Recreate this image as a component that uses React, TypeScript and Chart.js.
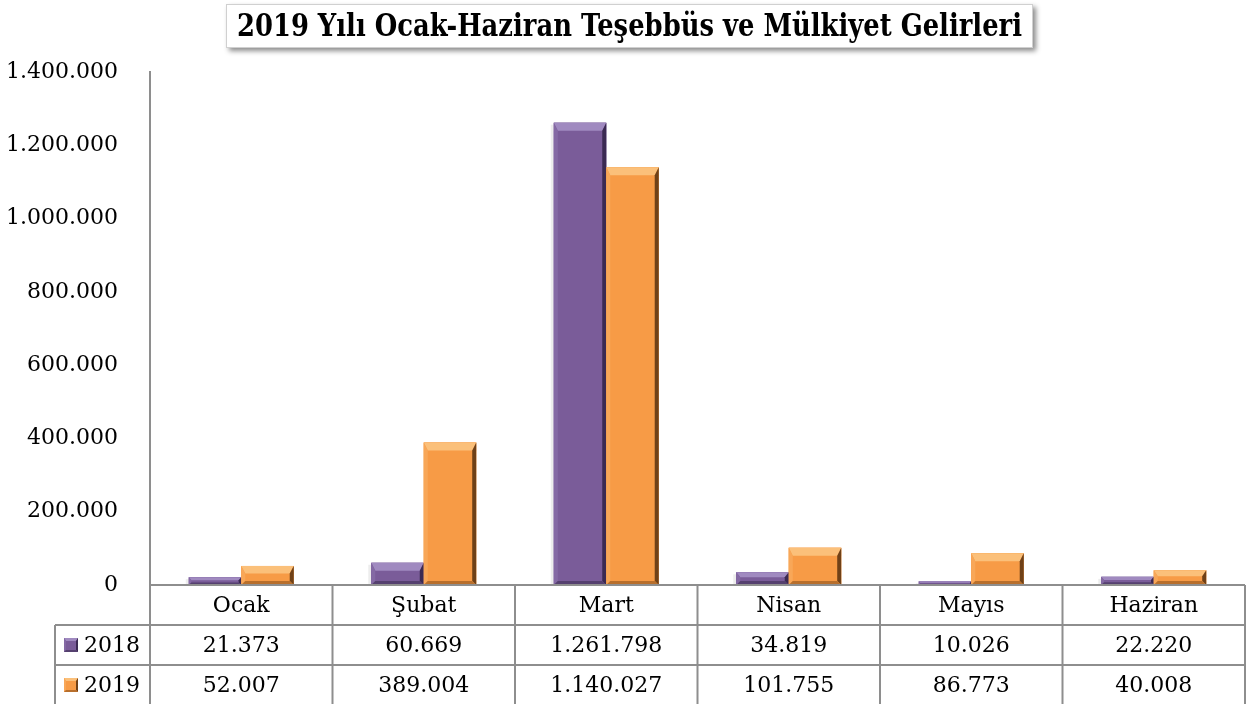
import React, { useEffect, useRef } from "react";
import { Chart, registerables } from "chart.js";

Chart.register(...registerables);

const title = "2019 Yılı Ocak-Haziran Teşebbüs ve Mülkiyet Gelirleri";
const categories = ["Ocak", "Şubat", "Mart", "Nisan", "Mayıs", "Haziran"];
const seriesNames = ["2018", "2019"];
const series2018 = [21373, 60669, 1261798, 34819, 10026, 22220];
const series2019 = [52007, 389004, 1140027, 101755, 86773, 40008];
const yMax = 1400000;
const yStep = 200000;

const FONT = '"DejaVu Serif", "Liberation Serif", serif';
const GRID = "#8e8e8e";

const palette = [
  { base: "#7a5c99", light: "#a08ac0", dark: "#3b2a52", bottom: "#55406f", side: "#8469a4" },
  { base: "#f79b46", light: "#fbc07a", dark: "#6f4118", bottom: "#b86f2c", side: "#f8a758" },
];

const fmt = (n: number) => n.toString().replace(/\B(?=(\d{3})+(?!\d))/g, ".");

function bevel(ctx: CanvasRenderingContext2D, left: number, top: number, right: number, bottom: number, c: any, bt: number, bs: number) {
  const h = bottom - top;
  const w = right - left;
  const t = Math.max(1, Math.min(bt, h / 2.5));
  const s = Math.max(1, Math.min(bs, h / 3, w / 4));
  ctx.save();
  ctx.fillStyle = c.base;
  ctx.fillRect(left, top, w, h);
  const poly = (pts: number[][], col: string) => {
    ctx.beginPath();
    ctx.moveTo(pts[0][0], pts[0][1]);
    for (let i = 1; i < pts.length; i++) ctx.lineTo(pts[i][0], pts[i][1]);
    ctx.closePath();
    ctx.fillStyle = col;
    ctx.fill();
  };
  poly([[left, top], [right, top], [right - s, top + t], [left + s, top + t]], c.light);
  poly([[left, top], [left + s, top + t], [left + s, bottom - s], [left, bottom]], c.side);
  poly([[right, top], [right, bottom], [right - s, bottom - s], [right - s, top + t]], c.dark);
  poly([[left, bottom], [right, bottom], [right - s, bottom - s], [left + s, bottom - s]], c.bottom);
  ctx.restore();
}

const decorPlugin = {
  id: "decor",
  afterDatasetsDraw(chart: any) {
    const ctx: CanvasRenderingContext2D = chart.ctx;
    chart.data.datasets.forEach((_: any, di: number) => {
      const meta = chart.getDatasetMeta(di);
      meta.data.forEach((el: any) => {
        const p = el.getProps(["x", "y", "base", "width"], true);
        const left = p.x - p.width / 2;
        const right = p.x + p.width / 2;
        const top = Math.min(p.y, p.base);
        const bottom = Math.max(p.y, p.base);
        if (di === 0) {
          ctx.save();
          ctx.fillStyle = "rgba(0,0,0,0.07)";
          ctx.fillRect(left - 3, top + 2, 3, bottom - top - 2);
          ctx.restore();
        }
        bevel(ctx, left, top, right, bottom, palette[di], 8, 4);
      });
    });
  },
  afterDraw(chart: any) {
    const ctx: CanvasRenderingContext2D = chart.ctx;
    const xs = chart.scales.x;
    const area = chart.chartArea;
    const n = categories.length;
    const cw = (xs.right - xs.left) / n;
    const y0 = area.bottom;
    const rowH = 40;
    const legendLeft = 55;
    const H = chart.height;

    // Title box
    const tbL = 226, tbT = 4, tbR = 1033, tbB = 48;
    ctx.save();
    ctx.shadowColor = "rgba(0,0,0,0.45)";
    ctx.shadowBlur = 5;
    ctx.shadowOffsetX = 3;
    ctx.shadowOffsetY = 3;
    ctx.fillStyle = "#ffffff";
    ctx.fillRect(tbL, tbT, tbR - tbL, tbB - tbT);
    ctx.restore();
    ctx.save();
    ctx.strokeStyle = "#d0d0d0";
    ctx.lineWidth = 1;
    ctx.strokeRect(tbL + 0.5, tbT + 0.5, tbR - tbL - 1, tbB - tbT - 1);
    ctx.font = `bold 31px ${FONT}`;
    ctx.fillStyle = "#000";
    ctx.textAlign = "center";
    ctx.textBaseline = "middle";
    const tw = ctx.measureText(title).width;
    const target = 785;
    const cx = (237 + 1022) / 2;
    ctx.translate(cx, 28);
    if (tw > target) ctx.scale(target / tw, 1);
    ctx.fillText(title, 0, 0);
    ctx.restore();

    // Table
    ctx.save();
    ctx.strokeStyle = GRID;
    ctx.lineWidth = 2;
    ctx.beginPath();
    ctx.moveTo(xs.left, y0);
    ctx.lineTo(xs.right, y0);
    ctx.moveTo(legendLeft, y0 + rowH);
    ctx.lineTo(xs.right, y0 + rowH);
    ctx.moveTo(legendLeft, y0 + 2 * rowH);
    ctx.lineTo(xs.right, y0 + 2 * rowH);
    ctx.moveTo(legendLeft, y0 + rowH);
    ctx.lineTo(legendLeft, H);
    for (let i = 0; i <= n; i++) {
      const x = xs.left + i * cw;
      ctx.moveTo(x, y0);
      ctx.lineTo(x, H);
    }
    ctx.stroke();

    ctx.fillStyle = "#000";
    ctx.font = `22px ${FONT}`;
    ctx.textAlign = "center";
    ctx.textBaseline = "middle";
    const rows = [series2018, series2019];
    for (let i = 0; i < n; i++) {
      const cx2 = xs.getPixelForValue(i);
      ctx.fillText(categories[i], cx2, y0 + rowH / 2 + 1);
      rows.forEach((r, ri) => {
        ctx.fillText(fmt(r[i]), cx2, y0 + rowH * (ri + 1) + rowH / 2 + 1);
      });
    }
    ctx.textAlign = "left";
    seriesNames.forEach((name, ri) => {
      const cy = y0 + rowH * (ri + 1) + rowH / 2;
      bevel(ctx, 64, cy - 7, 78, cy + 7, palette[ri], 3, 2);
      ctx.fillStyle = "#000";
      ctx.fillText(name, 84, cy + 1);
    });
    ctx.restore();
  },
};

export default function App() {
  const ref = useRef<HTMLCanvasElement | null>(null);
  useEffect(() => {
    if (!ref.current) return;
    const chart = new Chart(ref.current, {
      type: "bar",
      data: {
        labels: categories,
        datasets: [
          { label: seriesNames[0], data: series2018, backgroundColor: palette[0].base, barPercentage: 1, categoryPercentage: 0.575 },
          { label: seriesNames[1], data: series2019, backgroundColor: palette[1].base, barPercentage: 1, categoryPercentage: 0.575 },
        ],
      },
      options: {
        animation: false,
        responsive: true,
        maintainAspectRatio: false,
        layout: { padding: { top: 72, bottom: 119, right: 7, left: 0 } },
        plugins: { legend: { display: false }, title: { display: false }, tooltip: { enabled: false } },
        scales: {
          x: {
            grid: { display: false, drawTicks: false },
            ticks: { display: false },
            border: { display: false },
          },
          y: {
            min: 0,
            max: yMax,
            grid: { display: false, drawTicks: false },
            border: { display: true, color: GRID, width: 2 },
            ticks: {
              stepSize: yStep,
              padding: 32,
              color: "#000",
              font: { family: FONT, size: 22 },
              callback: (v: any) => fmt(Number(v)),
            },
            afterFit: (s: any) => {
              s.width = 150;
            },
          },
        },
      },
      plugins: [decorPlugin],
    });
    return () => chart.destroy();
  }, []);
  return (
    <div style={{ position: "absolute", left: 0, top: 0, width: 1252, height: 704, background: "#fff" }}>
      <canvas ref={ref} />
    </div>
  );
}
